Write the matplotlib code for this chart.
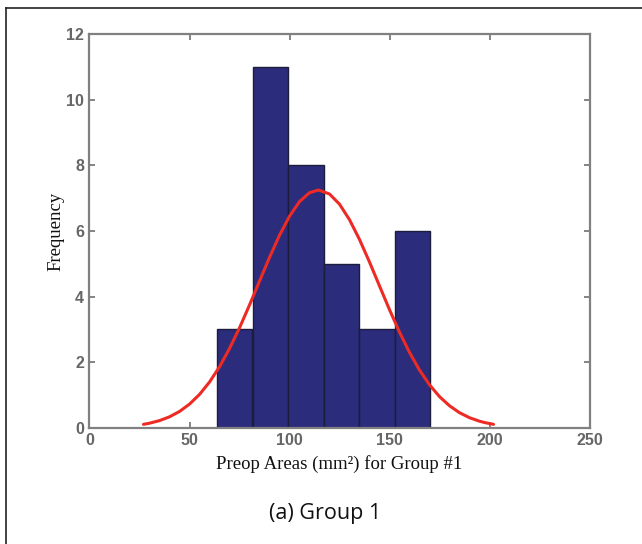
import matplotlib
matplotlib.use("Agg")
import matplotlib.pyplot as plt
from matplotlib.lines import Line2D

# Histogram data
bin_edges = [63.8, 81.5, 99.3, 117.0, 134.7, 152.5, 170.2]
counts = [3, 11, 8, 5, 3, 6]

# Fitted normal curve points
curve_x = [27, 30, 35, 40, 45, 50, 55, 60, 65, 70, 75, 80, 85, 90, 95, 100, 105, 110,
           114.5, 120, 125, 130, 135, 140, 145, 150, 155, 160, 165, 170, 175, 180,
           185, 190, 195, 198, 202]
curve_y = [0.103, 0.137, 0.216, 0.332, 0.495, 0.719, 1.014, 1.392, 1.858, 2.414,
           3.045, 3.742, 4.471, 5.194, 5.870, 6.451, 6.896, 7.169, 7.25, 7.129,
           6.819, 6.344, 5.741, 5.053, 4.324, 3.600, 2.915, 2.296, 1.758, 1.309,
           0.948, 0.669, 0.458, 0.305, 0.198, 0.151, 0.103]

x_ticks = [0, 50, 100, 150, 200, 250]
y_ticks = [0, 2, 4, 6, 8, 10, 12]

W, H = 642, 544
fig = plt.figure(figsize=(W / 100, H / 100), dpi=100)
fig.patch.set_facecolor("white")

# outer frame (top and left lines, extending off the edges)
fig.add_artist(Line2D([6 / W, 1.0], [1 - 7.5 / H, 1 - 7.5 / H], color="#222222", lw=1.2))
fig.add_artist(Line2D([6 / W, 6 / W], [0.0, 1 - 7.5 / H], color="#222222", lw=1.2))

left, right, top, bottom = 89.5, 589.5, 34.3, 427.7
ax = fig.add_axes([left / W, 1 - bottom / H, (right - left) / W, (bottom - top) / H])

widths = [bin_edges[i + 1] - bin_edges[i] for i in range(len(counts))]
ax.bar(bin_edges[:-1], counts, width=widths, align="edge",
       color="#2b2c7c", edgecolor="#1c1c3c", linewidth=1.0, zorder=2)
ax.plot(curve_x, curve_y, color="#ee2a24", lw=2.2, zorder=3, solid_capstyle="round")

ax.set_xlim(0, 250)
ax.set_ylim(0, 12)
ax.set_xticks(x_ticks)
ax.set_yticks(y_ticks)
ax.tick_params(direction="in", top=True, right=True, length=4, width=1.2,
               color="#707070", labelcolor="#666666", labelsize=11.5, pad=4)
for lab in ax.get_xticklabels() + ax.get_yticklabels():
    lab.set_family("Liberation Sans")
    lab.set_fontweight("semibold")
for s in ax.spines.values():
    s.set_color("#808080")
    s.set_linewidth(1.6)

ax.set_xlabel("Preop Areas (mm\u00b2) for Group #1", family="Liberation Serif",
              fontsize=13.5, labelpad=5, color="#111111")
ax.set_ylabel("Frequency", family="Liberation Serif", fontsize=13.5, labelpad=1,
              color="#111111")

fig.text(325 / W, 1 - 513 / H, "(a) Group 1", family="Open Sans", fontsize=15.5,
         ha="center", va="center", color="#111111")

fig.savefig("out.png", dpi=100)
